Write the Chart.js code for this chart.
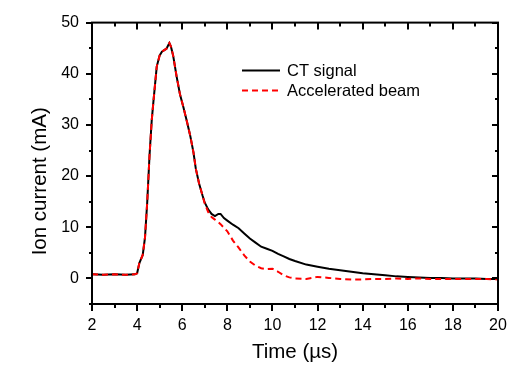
<!DOCTYPE html>
<html>
<head>
<meta charset="utf-8">
<script src="https://cdn.jsdelivr.net/npm/chart.js@4/dist/chart.umd.min.js"></script>
<style>
  html, body { margin: 0; padding: 0; background: #fff; }
  #wrap { width: 526px; height: 367px; }
</style>
</head>
<body>
<div id="wrap"><canvas id="ionChart"></canvas></div>
<script>
// time axis (us) shared by both traces
const timeUs = [2.0, 2.5, 3.0, 3.5, 3.9, 4.0, 4.1, 4.25, 4.35, 4.45, 4.55, 4.65, 4.72, 4.87, 5.0, 5.1, 5.3, 5.43,
  5.5, 5.6, 5.75, 5.9, 6.05, 6.2, 6.35, 6.5, 6.6, 6.75, 6.9, 7.0, 7.15, 7.3, 7.45, 7.6, 7.7, 7.85, 8.0,
  8.25, 8.5, 8.75, 9.0, 9.25, 9.5, 9.75, 10.0, 10.25, 10.5, 10.75, 11.0, 11.5, 12.0, 12.5, 13.0, 13.5,
  14.0, 14.5, 15.0, 15.5, 16.0, 16.5, 17.0, 17.5, 18.0, 18.5, 19.0, 19.5, 20.0];

// CT signal (mA)
const ctSignal = [0.8, 0.7, 0.8, 0.7, 0.8, 1.0, 3.0, 4.6, 8.0, 15.0, 24.0, 31.0, 34.4, 41.4, 43.6, 44.3, 44.9, 46.0,
  45.3, 43.5, 39.5, 36.0, 33.5, 30.8, 28.0, 24.6, 21.5, 18.5, 16.2, 14.8, 13.5, 12.6, 12.2, 12.6, 12.6, 11.8, 11.3,
  10.5, 9.8, 8.8, 7.8, 7.0, 6.2, 5.8, 5.4, 4.8, 4.3, 3.8, 3.4, 2.7, 2.3, 1.9, 1.6, 1.3,
  1.0, 0.8, 0.6, 0.4, 0.3, 0.2, 0.1, 0.1, 0.0, 0.0, 0.0, -0.1, -0.1];

// accelerated beam (mA)
const accelBeam = [0.8, 0.7, 0.8, 0.7, 0.8, 1.0, 3.0, 4.6, 8.0, 15.0, 24.0, 31.0, 34.4, 41.4, 43.6, 44.3, 44.9, 46.0,
  45.3, 43.5, 39.5, 36.0, 33.5, 30.8, 28.0, 24.6, 21.5, 18.5, 16.2, 14.6, 13.0, 12.0, 11.5, 11.0, 10.6, 9.9, 9.2,
  7.4, 6.0, 4.5, 3.3, 2.5, 2.0, 1.8, 1.9, 1.3, 0.6, 0.2, 0.0, -0.1, 0.3, 0.1, -0.1, -0.2,
  -0.2, -0.1, -0.1, 0.0, -0.1, 0.0, -0.1, -0.1, -0.1, -0.1, -0.1, -0.1, -0.2];

const xTicks = [2, 4, 6, 8, 10, 12, 14, 16, 18, 20];
const yTicks = [0, 10, 20, 30, 40, 50];

const FONT = "'Liberation Sans', Arial, Helvetica, sans-serif";
const Y_TITLE = 'Ion current (mA)';

// frame, ticks (outward bottom/left, inward top/right), y title and legend
const framePlugin = {
  id: 'framePlugin',
  afterDraw(chart) {
    const { ctx, chartArea: a, scales: { x, y } } = chart;
    ctx.save();
    ctx.strokeStyle = '#000';
    ctx.lineWidth = 2;
    ctx.lineCap = 'square';
    ctx.strokeRect(a.left, a.top, a.right - a.left, a.bottom - a.top);

    const seg = (x1, y1, x2, y2) => {
      ctx.beginPath(); ctx.moveTo(x1, y1); ctx.lineTo(x2, y2); ctx.stroke();
    };
    ctx.lineCap = 'butt';
    for (let v = x.min; v <= x.max; v += 1) {
      const px = Math.round(x.getPixelForValue(v));
      const len = xTicks.includes(v) ? 7 : 4;
      seg(px, a.bottom, px, a.bottom + len);
      seg(px, a.top, px, a.top + len);
    }
    for (let v = y.min; v <= y.max; v += 5) {
      const py = Math.round(y.getPixelForValue(v));
      const len = yTicks.includes(v) ? 6 : 3;
      seg(a.left, py, a.left - len, py);
      seg(a.right, py, a.right - len, py);
    }

    // y axis title, sits a bit below the middle like the original
    ctx.save();
    ctx.translate(40, (a.top + a.bottom) / 2 + 18);
    ctx.rotate(-Math.PI / 2);
    ctx.font = '20.5px ' + FONT;
    ctx.fillStyle = '#000';
    ctx.textAlign = 'center';
    ctx.textBaseline = 'middle';
    ctx.fillText(Y_TITLE, 0, 0);
    ctx.restore();

    // legend
    const lx = a.left + 150;
    const ly = a.top + 48;
    ctx.font = '16.5px ' + FONT;
    ctx.fillStyle = '#000';
    ctx.textBaseline = 'middle';
    chart.data.datasets.slice().reverse().forEach((ds, i) => {
      const yy = ly + i * 20;
      ctx.strokeStyle = ds.borderColor;
      ctx.lineWidth = 2;
      ctx.setLineDash(ds.borderDash || []);
      seg(lx, yy, lx + 38, yy);
      ctx.setLineDash([]);
      ctx.fillText(ds.label, lx + 45, yy + 1);
    });
    ctx.restore();
  }
};

const ctx = document.getElementById('ionChart').getContext('2d');
new Chart(ctx, {
  type: 'line',
  data: {
    labels: timeUs,
    datasets: [
      {
        label: 'Accelerated beam',
        data: timeUs.map((t, i) => ({ x: t, y: accelBeam[i] })),
        borderColor: '#ff0000',
        borderWidth: 2,
        borderDash: [6, 4],
        pointRadius: 0,
        tension: 0,
        order: 0
      },
      {
        label: 'CT signal',
        data: timeUs.map((t, i) => ({ x: t, y: ctSignal[i] })),
        borderColor: '#000000',
        borderWidth: 2,
        pointRadius: 0,
        tension: 0,
        order: 1
      }
    ]
  },
  options: {
    responsive: true,
    maintainAspectRatio: false,
    animation: false,
    events: [],
    layout: { padding: { top: 15, right: 28, left: 0, bottom: 0 } },
    scales: {
      x: {
        type: 'linear',
        min: 2,
        max: 20,
        afterFit: s => { s.height = 63; },
        afterBuildTicks: s => { s.ticks = xTicks.map(v => ({ value: v })); },
        grid: { display: false, drawTicks: false },
        border: { display: false },
        ticks: { color: '#000', padding: 12, font: { family: FONT, size: 16 }, maxRotation: 0 },
        title: { display: true, text: 'Time (\u00b5s)', color: '#000', padding: { top: 0, bottom: 2 }, font: { family: FONT, size: 20.5 } }
      },
      y: {
        min: -5,
        max: 50,
        afterFit: s => { s.width = 92; },
        afterBuildTicks: s => { s.ticks = yTicks.map(v => ({ value: v })); },
        grid: { display: false, drawTicks: false },
        border: { display: false },
        ticks: { color: '#000', padding: 13, font: { family: FONT, size: 16 } },
        title: { display: false }
      }
    },
    plugins: {
      legend: { display: false },
      tooltip: { enabled: false }
    }
  },
  plugins: [framePlugin]
});
</script>
</body>
</html>
